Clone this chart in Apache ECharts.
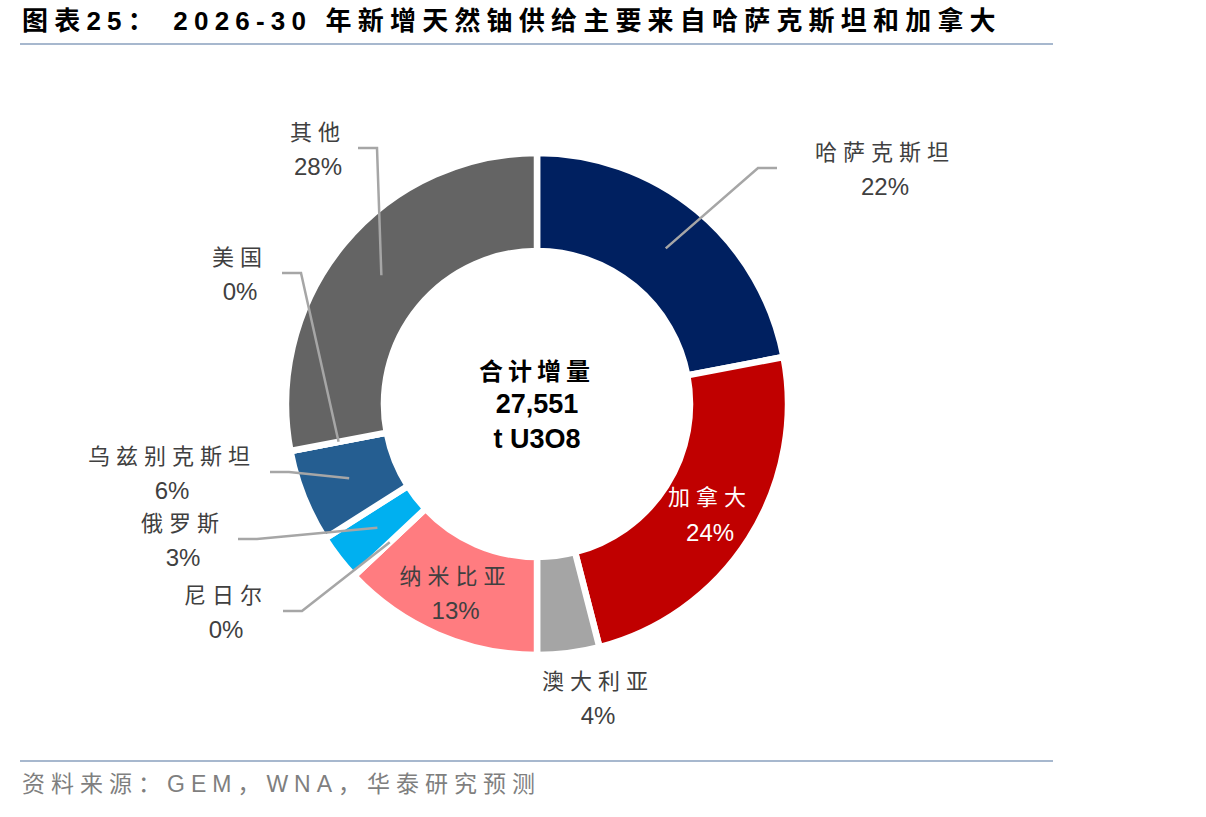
<!DOCTYPE html>
<html><head><meta charset="utf-8">
<script src="https://cdn.jsdelivr.net/npm/echarts@6/dist/echarts.min.js"></script>
<style>
html,body{margin:0;padding:0;background:#fff}
#c{width:1206px;height:817px}
/* the reference text is set with loose character spacing */
#c svg text[style*="Helvetica"]{letter-spacing:6.2px}
#c svg text[style*="Verdana"]{letter-spacing:6px}
#c svg text[style*="Tahoma"]{letter-spacing:6px}
#c svg text[style*="Georgia"]{letter-spacing:5px}
</style>
</head><body><div id="c"></div>
<script>
// ---- data ----
const categories = ['哈萨克斯坦','加拿大','澳大利亚','纳米比亚','尼日尔','俄罗斯','乌兹别克斯坦','美国','其他'];
const values = [6061, 6612, 1102, 3582, 0, 827, 1653, 0, 7714];
const totalLines = ['合计增量','27,551','t U3O8'];
const titleText = '图表25： 2026-30 年新增天然铀供给主要来自哈萨克斯坦和加拿大';
const sourceText = '资料来源：GEM，WNA，华泰研究预测';

// ---- styles / layout ----
const colors = ['#002060','#C00000','#A5A5A5','#FF7C80','#FFC000','#00B0F0','#255E91','#70AD47','#646464'];
const insideLabel = {1: '#FFFFFF', 3: '#404040'};          // labels drawn inside the ring
// outside label placement: [label centre x, label-line y, line end x]; null = no line
const outsideLayout = {
  0: [885, 168, 777],
  2: [598, 697, null],
  4: [226, 611, 283],
  5: [183, 539, 238],
  6: [172, 472, 270],
  7: [240, 273, 282],
  8: [318, 148, 358]
};
const CX = 537, CY = 404;
const NAME_FONT = '"Noto Sans CJK SC", Tahoma, sans-serif';
const NUM_FONT = '"Liberation Sans", Arial, sans-serif';

const rich = {
  n: {fontFamily: NAME_FONT, fontSize: 22, color: '#404040', lineHeight: 37},
  p: {fontFamily: NUM_FONT, fontSize: 24, color: '#404040', lineHeight: 37},
  nw: {fontFamily: NAME_FONT, fontSize: 22, color: '#FFFFFF', lineHeight: 37},
  pw: {fontFamily: NUM_FONT, fontSize: 24, color: '#FFFFFF', lineHeight: 37}
};
function fmt(white) {
  return function (p) {
    const pc = Math.round(p.percent) + '%';
    return white ? '{nw|' + p.name + '}\n{pw|' + pc + '}' : '{n|' + p.name + '}\n{p|' + pc + '}';
  };
}

const ringData = categories.map((c, i) => ({
  name: c, value: values[i],
  itemStyle: {color: colors[i]},
  label: insideLabel[i] ? {show: true, position: 'inside', formatter: fmt(insideLabel[i] === '#FFFFFF')} : {show: false}
}));
const guideData = categories.map((c, i) => ({
  name: c, value: values[i],
  label: {show: !!outsideLayout[i]},
  labelLine: {show: !!(outsideLayout[i] && outsideLayout[i][2] != null)}
}));

const chart = echarts.init(document.getElementById('c'), null, {renderer: 'svg'});
chart.setOption({
  animation: false,
  backgroundColor: '#fff',
  graphic: [
    {type: 'text', left: 22, top: 8, style: {text: titleText, fontFamily: '"Liberation Sans", "Noto Sans CJK SC", Helvetica, sans-serif', fontWeight: 'bold', fontSize: 26, fill: '#000'}},
    {type: 'line', shape: {x1: 20, y1: 44, x2: 1053, y2: 44}, style: {stroke: '#A7B8CE', lineWidth: 2}},
    {type: 'line', shape: {x1: 20, y1: 761, x2: 1053, y2: 761}, style: {stroke: '#A7B8CE', lineWidth: 2}},
    {type: 'text', left: 22, top: 772, style: {text: sourceText, fontFamily: '"Liberation Sans", "Noto Sans CJK SC", Verdana, sans-serif', fontSize: 23, fill: '#7F7F7F'}},
    {type: 'text', x: CX, y: CY, z: 10, style: {
      text: '{a|' + totalLines[0] + '}\n{b|' + totalLines[1] + '}\n{b|' + totalLines[2] + '}',
      align: 'center', verticalAlign: 'middle',
      rich: {
        a: {fontFamily: '"Noto Sans CJK SC", Georgia, sans-serif', fontWeight: 'bold', fontSize: 24, lineHeight: 35, fill: '#000', align: 'center'},
        b: {fontFamily: '"Liberation Sans", Arial, sans-serif', fontWeight: 'bold', fontSize: 27, lineHeight: 35, fill: '#000', align: 'center'}
      }
    }}
  ],
  series: [
    {
      type: 'pie', center: [CX, CY], radius: [153, 251], startAngle: 90, clockwise: true,
      avoidLabelOverlap: false, silent: true,
      itemStyle: {borderColor: '#fff', borderWidth: 6.5},
      label: {rich: rich},
      labelLine: {show: false},
      emphasis: {disabled: true},
      data: ringData
    },
    {
      type: 'pie', center: [CX, CY], radius: [0, 202], startAngle: 90, clockwise: true,
      avoidLabelOverlap: false, silent: true, z: 5,
      itemStyle: {color: 'rgba(0,0,0,0)', borderWidth: 0},
      label: {position: 'outside', alignTo: 'none', formatter: fmt(false), rich: rich},
      labelLine: {length: 20, length2: 20, lineStyle: {color: '#A6A6A6', width: 2.5}},
      emphasis: {disabled: true},
      labelLayout: function (params) {
        const L = outsideLayout[params.dataIndex];
        if (!L) return {};
        const out = {x: L[0], y: L[1], align: 'center', verticalAlign: 'middle'};
        if (L[2] != null && params.labelLinePoints) {
          const start = params.labelLinePoints[0];
          const dir = L[2] > L[0] ? 1 : -1;
          const end = [L[2], L[1]];
          const mid = [L[2] + dir * 19, L[1]];
          out.labelLinePoints = [start, mid, end];
        }
        return out;
      },
      data: guideData
    }
  ]
});
</script></body></html>
